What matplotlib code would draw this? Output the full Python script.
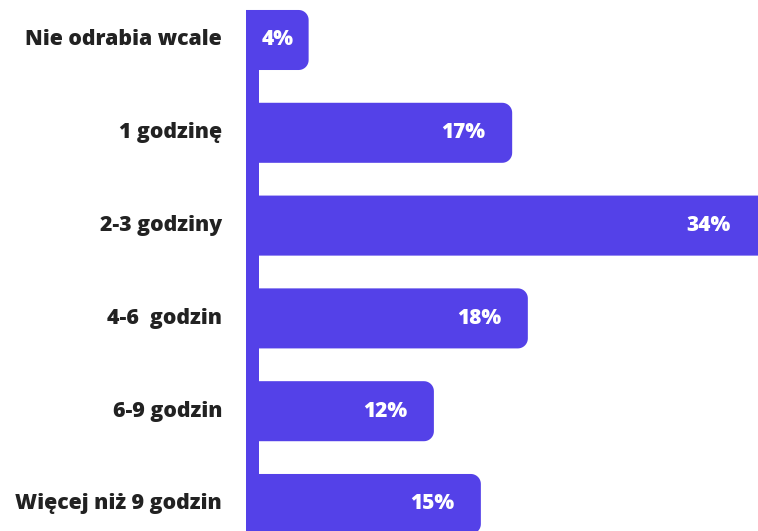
import matplotlib
matplotlib.use("Agg")
import numpy as np
import matplotlib.pyplot as plt
from matplotlib.patches import Polygon, Rectangle

plt.rcParams['font.family'] = ['Open Sans', 'DejaVu Sans']

# Share of pupils by daily homework time
categories = ['Nie odrabia wcale', '1 godzinę', '2-3 godziny', '4-6  godzin', '6-9 godzin', 'Więcej niż 9 godzin']
values = [4, 17, 34, 18, 12, 15]
value_labels = ['4%', '17%', '34%', '18%', '12%', '15%']

bar_color = '#5441e8'
text_color = '#222222'

fig = plt.figure(figsize=(7.58, 5.31), dpi=100)
ax = fig.add_axes([246 / 758, 0, 1 - 246 / 758, 1])

xmax = 32.7
ax.set_xlim(0, xmax)
ax.set_ylim(5.291, -0.431)
ax.axis('off')

bar_h = 0.647
px_x = xmax / 512          # data units per pixel, horizontally
px_y = (5.291 + 0.431) / 531
rx, ry = 10 * px_x, 10 * px_y


def right_rounded_bar(y0, length, height):
    # polygon outline: square on the left, rounded corners on the right
    t = np.linspace(0, np.pi / 2, 12)
    top = [(length - rx + rx * np.sin(a), y0 + ry - ry * np.cos(a)) for a in t]
    bottom = [(length - rx + rx * np.cos(a), y0 + height - ry + ry * np.sin(a)) for a in t]
    return [(0, y0)] + top + bottom + [(0, y0 + height)]


for i, v in enumerate(values):
    y0 = i - bar_h / 2
    ax.add_patch(Polygon(right_rounded_bar(y0, v, bar_h), closed=True,
                         facecolor=bar_color, edgecolor='none', zorder=2))

    end = min(v, xmax)
    if v < 6:
        ax.text((13 * px_x + v) / 2 - 6 * px_x, i, value_labels[i], color='white',
                fontsize=15, fontweight='extra bold', ha='center', va='center', zorder=3)
    else:
        ax.annotate(value_labels[i], (end, i), xytext=(-27, 0), textcoords='offset pixels',
                    color='white', fontsize=15, fontweight='extra bold',
                    ha='right', va='center', zorder=3)

    ax.annotate(categories[i], (0, i), xytext=(-24, 0), textcoords='offset pixels',
                color=text_color, fontsize=15.3, fontweight='extra bold',
                ha='right', va='center', annotation_clip=False)

# vertical spine joining the bars
ax.add_patch(Rectangle((0, -bar_h / 2), 13 * px_x, 6, facecolor=bar_color,
                       edgecolor='none', zorder=2))

fig.savefig('out.png', dpi=100)
